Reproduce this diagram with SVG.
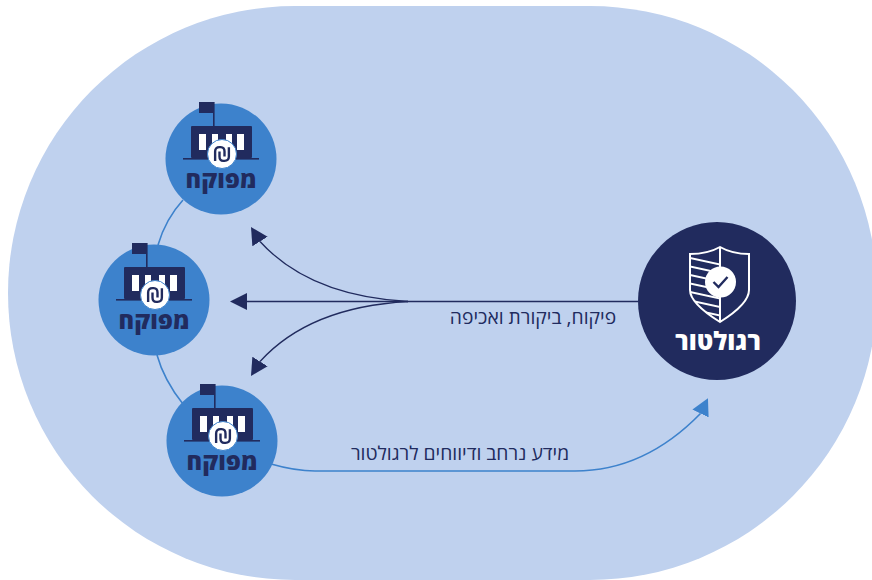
<svg xmlns="http://www.w3.org/2000/svg" width="872" height="580" viewBox="0 0 872 580">
<style>
.hb{font-family:"Open Sans","Noto Sans","DejaVu Sans",sans-serif;direction:rtl;text-anchor:middle}
.lbl{font-size:19.300px;fill:#212b5e}
.nm{font-size:23.700px;font-weight:800;fill:#212b5e}
.nv{fill:#212b5e}.bl{fill:#3d82cc}.wh{fill:#fff}
.cn{fill:none;stroke:#212b5e;stroke-width:1.3}
.cb{fill:none;stroke:#3d82cc;stroke-width:1.6}
</style>
<defs>
<marker id="an0" markerUnits="userSpaceOnUse" markerWidth="18" markerHeight="19" refX="0" refY="9.5" orient="180"><path d="M0 1 L17 9.5 L0 18Z" fill="#212b5e"/></marker>
<marker id="an1" markerUnits="userSpaceOnUse" markerWidth="18" markerHeight="19" refX="0" refY="9.5" orient="-122"><path d="M0 0.500 L17 9.5 L0 18.500Z" fill="#212b5e"/></marker>
<marker id="an2" markerUnits="userSpaceOnUse" markerWidth="18" markerHeight="19" refX="0" refY="9.5" orient="122"><path d="M0 0.500 L17 9.5 L0 18.500Z" fill="#212b5e"/></marker>
<marker id="ab" markerUnits="userSpaceOnUse" markerWidth="18" markerHeight="19" refX="0" refY="9.5" orient="-64"><path d="M0 0.500 L17 9.5 L0 18.500Z" fill="#3d82cc"/></marker>
<clipPath id="sl"><path d="M690 254 C702 254 713 251 720 247 V322 C704 312 690 300 690 290Z"/></clipPath>
<g id="mp">
<circle r="55.5" class="bl"/>
<path class="nv" d="M-22 -57H-8V-46H-22Z"/>
<rect x="-8" y="-57" width="1.6" height="50" class="nv"/>
<rect x="-30" y="-33" width="61" height="32" rx="1" class="nv"/>
<rect x="-38" y="-1" width="76" height="1.6" class="nv"/>
<path class="wh" d="M-22 -25h7v16h-7zM-9 -25h6v16h-6zM5 -25h6v16h-6zM16 -25h7v16h-7z"/>
<circle cx="1" cy="-5" r="14.500" class="wh" stroke="#3d82cc" stroke-width="1"/>
<g transform="translate(1 -5) scale(1.250)" fill="none" stroke="#212b5e" stroke-width="1.900">
<path d="M-5.500 5.500V-2Q-5.500 -5.500 -2 -5.500H-1Q2 -5.500 2 -2V2"/>
<path d="M5.500 -5.500V2Q5.500 5.500 2 5.500H1Q-2 5.500 -2 2V-2"/>
</g>
<text class="hb nm" x="0" y="29">מפוקח</text>
</g>
</defs>
<rect x="8" y="6" width="869" height="574" rx="287" ry="287" fill="#bfd1ee"/>
<g id="connectors">
<path class="cb" d="M183 200C172 212 163 228 158 245"/>
<path class="cb" d="M157 355C162 373 171 389 183 404"/>
<path class="cn" d="M638 301.500H408"/>
<path class="cn" d="M408 301.500H247" marker-end="url(#an0)"/>
<path class="cn" d="M408 301.500C345 298 295 280 260 241.500" marker-end="url(#an1)"/>
<path class="cn" d="M408 301.500C345 305 295 323 260 361.500" marker-end="url(#an2)"/>
<path class="cb" d="M271 464C285 468 298 471 315 471H575C625 471 665 450 700.500 413.500" marker-end="url(#ab)"/>
</g>
<g id="node-top"><use href="#mp" x="221" y="159"/></g>
<g id="node-mid"><use href="#mp" x="154" y="300"/></g>
<g id="node-bottom"><use href="#mp" x="222" y="441"/></g>
<g id="regulator">
<circle cx="717" cy="301" r="79" class="nv"/>
<g fill="none" stroke="#fff" stroke-width="2">
<path d="M720 247C713 251 702 254 690 254V290C690 300 704 312 720 322C736 312 749 300 749 290V254C737 254 727 251 720 247Z"/>
<path d="M720 247V322"/>
<g clip-path="url(#sl)">
<path d="M690 258L722 265M690 266.500L722 273.500M690 275L722 282M690 283.500L722 290.500M690 292L722 299M690 300.500L722 307.500M690 309L722 316"/>
</g>
</g>
<circle cx="720.500" cy="282" r="15.500" class="wh"/>
<path d="M713.500 282L718.500 287L727.500 277" fill="none" stroke="#212b5e" stroke-width="2.400"/>
<text class="hb" x="718" y="350" font-size="25" font-weight="800" fill="#fff">רגולטור</text>
</g>
<text class="hb lbl" x="533" y="324">פיקוח, ביקורת ואכיפה</text>
<text class="hb lbl" x="460" y="460">מידע נרחב ודיווחים לרגולטור</text>
</svg>
